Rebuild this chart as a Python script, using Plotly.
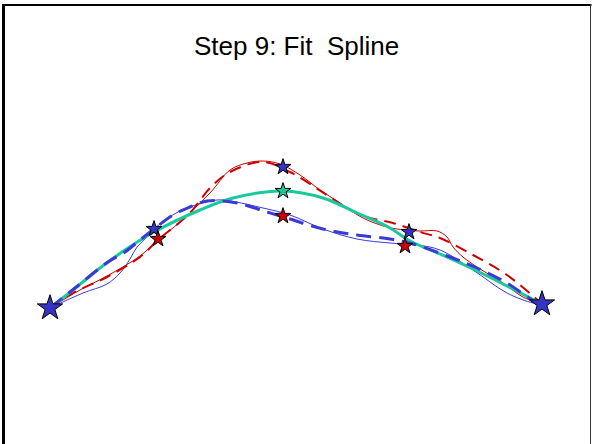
import plotly.graph_objects as go

# ---- data ----
red_thin_x = [0, 0.30, 0.57, 0.90, 1.08, 1.30, 1.60, 1.80, 1.97, 2.13, 2.30, 2.50, 2.70, 2.90, 3.13, 3.37, 3.55, 3.70, 3.87, 3.97, 4.03, 4.13, 4.27, 4.53, 4.73, 4.92]
red_thin_y = [0, 0.18, 0.32, 0.52, 0.68, 0.86, 1.15, 1.38, 1.45, 1.47, 1.44, 1.33, 1.18, 1.05, 0.90, 0.81, 0.78, 0.77, 0.77, 0.71, 0.61, 0.51, 0.41, 0.25, 0.11, 0.04]

red_dash_x = [0, 0.23, 0.57, 0.90, 1.08, 1.40, 1.60, 1.80, 2.13, 2.40, 2.77, 3.10, 3.43, 3.70, 3.90, 4.23, 4.57, 4.92]
red_dash_y = [0, 0.15, 0.31, 0.51, 0.68, 0.95, 1.20, 1.36, 1.46, 1.36, 1.13, 0.93, 0.85, 0.76, 0.70, 0.53, 0.33, 0.04]

green_x = [0, 0.23, 0.50, 0.75, 1.04, 1.50, 1.83, 2.33, 2.73, 3.07, 3.40, 3.60, 3.90, 4.23, 4.57, 4.92]
green_y = [0, 0.18, 0.40, 0.58, 0.76, 0.98, 1.10, 1.17, 1.10, 0.95, 0.80, 0.67, 0.54, 0.39, 0.22, 0.04]

blue_thin_x = [0, 0.33, 0.57, 0.70, 0.80, 0.87, 0.97, 1.04, 1.30, 1.67, 1.80, 2.13, 2.40, 2.73, 3.07, 3.40, 3.67, 3.90, 4.23, 4.57, 4.83, 4.92]
blue_thin_y = [0, 0.15, 0.24, 0.35, 0.49, 0.61, 0.71, 0.79, 0.97, 1.08, 1.07, 1.00, 0.93, 0.79, 0.69, 0.65, 0.63, 0.58, 0.38, 0.15, 0.05, 0.04]

blue_dash_x = [0, 0.25, 0.58, 0.75, 0.90, 1.04, 1.23, 1.40, 1.57, 1.87, 2.17, 2.40, 2.73, 3.07, 3.40, 3.63, 4.00, 4.27, 4.57, 4.87, 4.92]
blue_dash_y = [0, 0.20, 0.46, 0.56, 0.68, 0.79, 0.93, 1.01, 1.07, 1.05, 0.96, 0.89, 0.79, 0.73, 0.69, 0.64, 0.51, 0.40, 0.25, 0.05, 0.04]

end_x = [0, 4.92]
end_y = [0, 0.04]
blue_star_x = [1.04, 2.33, 3.59]
blue_star_y = [0.79, 1.41, 0.76]
red_star_x = [1.08, 2.33, 3.55]
red_star_y = [0.69, 0.92, 0.62]
green_star_x = [2.33]
green_star_y = [1.17]

title_text = "Step 9: Fit\u00a0 Spline"

RED = "#cc0000"
BLUE = "#3a3ad8"
GREEN = "#17c99b"

fig = go.Figure()
fig.add_trace(go.Scatter(x=blue_thin_x, y=blue_thin_y, mode="lines",
                         line=dict(color=BLUE, width=1, shape="spline")))
fig.add_trace(go.Scatter(x=red_thin_x, y=red_thin_y, mode="lines",
                         line=dict(color=RED, width=1, shape="spline")))
fig.add_trace(go.Scatter(x=red_dash_x, y=red_dash_y, mode="lines",
                         line=dict(color=RED, width=2, dash="12px,7px", shape="spline")))
fig.add_trace(go.Scatter(x=green_x, y=green_y, mode="lines",
                         line=dict(color=GREEN, width=3, shape="spline")))
fig.add_trace(go.Scatter(x=blue_dash_x, y=blue_dash_y, mode="lines",
                         line=dict(color=BLUE, width=3, dash="15px,8px", shape="spline")))

fig.add_trace(go.Scatter(x=end_x, y=end_y, mode="markers",
                         marker=dict(symbol="star", size=19, color="#3434c4",
                                     line=dict(color="black", width=1))))
fig.add_trace(go.Scatter(x=blue_star_x, y=blue_star_y, mode="markers",
                         marker=dict(symbol="star", size=12, color="#3434c4",
                                     line=dict(color="black", width=1))))
fig.add_trace(go.Scatter(x=red_star_x, y=red_star_y, mode="markers",
                         marker=dict(symbol="star", size=12, color=RED,
                                     line=dict(color="black", width=1))))
fig.add_trace(go.Scatter(x=green_star_x, y=green_star_y, mode="markers",
                         marker=dict(symbol="star", size=12, color=GREEN,
                                     line=dict(color="black", width=1))))

W, H = 592, 444
fig.update_layout(
    width=W, height=H,
    margin=dict(l=0, r=0, t=0, b=0),
    paper_bgcolor="white", plot_bgcolor="white",
    showlegend=False,
    xaxis=dict(range=[-0.5, 5.42], visible=False, fixedrange=True),
    yaxis=dict(range=[-1.36, 3.08], visible=False, fixedrange=True),
    annotations=[dict(text=title_text, xref="paper", yref="paper",
                      x=0.5, y=1 - 57 / H, xanchor="center", yanchor="bottom",
                      yshift=-6, showarrow=False,
                      font=dict(family="Liberation Sans, Arial, sans-serif",
                                size=26, color="black"))],
    shapes=[
        dict(type="line", xref="paper", yref="paper",
             x0=3.5 / W, x1=3.5 / W, y0=-0.05, y1=1 - 4 / H,
             line=dict(color="black", width=3)),
        dict(type="line", xref="paper", yref="paper",
             x0=2 / W, x1=591.5 / W, y0=1 - 5 / H, y1=1 - 5 / H,
             line=dict(color="black", width=2)),
        dict(type="line", xref="paper", yref="paper",
             x0=590.5 / W, x1=590.5 / W, y0=-0.05, y1=1 - 4 / H,
             line=dict(color="#333333", width=1)),
    ],
)

fig.write_html("out.html", config=dict(displayModeBar=False),
               post_script="document.body.style.margin='0px';document.body.style.overflow='hidden';")
